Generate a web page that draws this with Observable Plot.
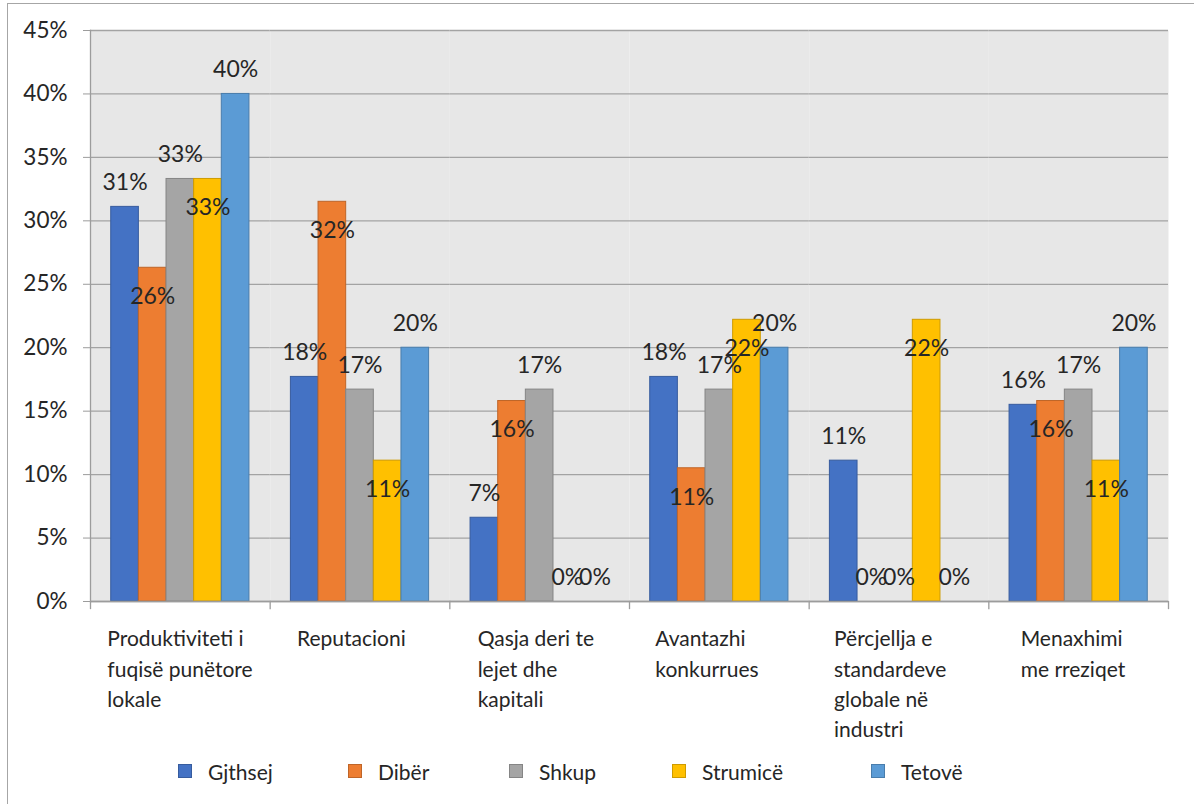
<!DOCTYPE html>
<html>
<head>
<meta charset="utf-8">
<script src="https://cdn.jsdelivr.net/npm/d3@7"></script>
<script src="https://cdn.jsdelivr.net/npm/@observablehq/plot@0.6"></script>
<style>
  html, body { margin: 0; padding: 0; background: #fff; overflow: hidden; }
  body { width: 1194px; height: 804px; position: relative; font-family: "Lato", sans-serif; }
  #frame { position: absolute; left: 7px; top: 3px; width: 1200px; height: 820px; border-top: 1.5px solid #a6a6a6; border-left: 1.5px solid #a6a6a6; box-sizing: border-box; pointer-events: none; }
  #chart { position: absolute; left: 0; top: 0; }
  #legend { position: absolute; left: 0; top: 758px; width: 1194px; height: 26px; font-size: 21px; color: #262626; }
  .item { position: absolute; top: 0; display: flex; align-items: center; height: 26px; }
  .sw { width: 14px; height: 14px; box-sizing: border-box; margin-right: 16px; }
</style>
</head>
<body>
<div id="chart"></div>
<div id="legend"></div>
<div id="frame"></div>
<script>
// ---- data ----
const categories = [
  "Produktiviteti i fuqisë punëtore lokale",
  "Reputacioni",
  "Qasja deri te lejet dhe kapitali",
  "Avantazhi konkurrues",
  "Përcjellja e standardeve globale në industri",
  "Menaxhimi me rreziqet"
];
const categoryLabels = [
  "Produktiviteti i\nfuqisë punëtore\nlokale",
  "Reputacioni",
  "Qasja deri te\nlejet dhe\nkapitali",
  "Avantazhi\nkonkurrues",
  "Përcjellja e\nstandardeve\nglobale në\nindustri",
  "Menaxhimi\nme rreziqet"
];
const series = ["Gjthsej", "Dibër", "Shkup", "Strumicë", "Tetovë"];
const colors = ["#4472C4", "#ED7D31", "#A5A5A5", "#FFC000", "#5B9BD5"];
const gjthsej  = [31.1, 17.7, 6.6, 17.7, 11.1, 15.5];
const diber    = [26.3, 31.5, 15.8, 10.5, 0, 15.8];
const shkup    = [33.3, 16.7, 16.7, 16.7, 0, 16.7];
const strumice = [33.3, 11.1, 0, 22.2, 22.2, 11.1];
const tetove   = [40, 20, 0, 20, 0, 20];
const yTicks = [0, 5, 10, 15, 20, 25, 30, 35, 40, 45];
// horizontal offset of each wrapped category label block from its band centre
const labelDx = [-73, -63, -62, -64, -65, -58];
const legendX = [178, 348, 509, 672, 871];

// ---- table ----
const valuesBySeries = [gjthsej, diber, shkup, strumice, tetove];
const data = [];
categories.forEach((c, ci) => {
  series.forEach((s, si) => {
    data.push({category: c, series: s, si, value: valuesBySeries[si][ci]});
  });
});
const colorOf = s => colors[series.indexOf(s)];
const labelOf = c => categoryLabels[categories.indexOf(c)];
const fmt = d => Math.round(d.value) + "%";
const above = data.filter(d => d.si % 2 === 0 || d.value === 0);
const below = data.filter(d => d.si % 2 === 1 && d.value !== 0);

const fxAxes = categories.map((c, i) => Plot.axisFx({
  ticks: [c], anchor: "bottom", tickSize: 0, tickPadding: 23, textAnchor: "start", dx: labelDx[i],
  tickFormat: labelOf, lineHeight: 1.45, fontSize: 21, fill: "#262626", label: null
}));

const plot = Plot.plot({
  width: 1194,
  height: 745,
  marginLeft: 90,
  marginRight: 26,
  marginTop: 30,
  marginBottom: 144,
  style: {fontFamily: "Lato, sans-serif", fontSize: "21px", color: "#262626", background: "transparent", overflow: "visible"},
  fx: {domain: categories, padding: 0, round: false, label: null, axis: null},
  x: {domain: series, paddingInner: 0, paddingOuter: 0.75, round: false, axis: null},
  y: {domain: [0, 45], label: null, axis: null},
  color: {domain: series, range: colors},
  marks: [
    Plot.frame({fill: "#e7e7e7", stroke: null}),
    Plot.gridY(yTicks, {stroke: "#a3a3a3", strokeOpacity: 1, strokeWidth: 1.3}),
    Plot.barY(data, {
      fx: "category", x: "series", y: "value", fill: "series",
      stroke: d => d3.color(colorOf(d.series)).darker(0.6).formatHex(),
      strokeWidth: 1
    }),
    Plot.ruleY([0], {stroke: "#9c9c9c", strokeWidth: 1.3}),
    Plot.frame({anchor: "left", stroke: "#9c9c9c", strokeWidth: 1.3, facetAnchor: "left"}),
    Plot.frame({anchor: "left", stroke: "#9c9c9c", strokeWidth: 1.3, insetTop: 571, insetBottom: -7}),
    Plot.frame({anchor: "right", stroke: "#9c9c9c", strokeWidth: 1.3, insetTop: 571, insetBottom: -7, facetAnchor: "right"}),
    Plot.axisY(yTicks, {
      anchor: "left", tickSize: 7, tickPadding: 16, stroke: "#9c9c9c",
      tickFormat: d => d + "%", fontSize: 22.5, fill: "#262626", label: null
    }),
    ...fxAxes,
    Plot.text(above, {fx: "category", x: "series", y: "value", text: fmt, dy: -24, fontSize: 23, fill: "#262626"}),
    Plot.text(below, {fx: "category", x: "series", y: "value", text: fmt, dy: 29, fontSize: 23, fill: "#262626"})
  ]
});
document.getElementById("chart").appendChild(plot);

// ---- legend ----
const legend = document.getElementById("legend");
series.forEach((s, i) => {
  const it = document.createElement("div");
  it.className = "item";
  it.style.left = legendX[i] + "px";
  const sw = document.createElement("span");
  sw.className = "sw";
  sw.style.background = colors[i];
  sw.style.border = "1px solid " + d3.color(colors[i]).darker(0.6).formatHex();
  const tx = document.createElement("span");
  tx.textContent = s;
  it.appendChild(sw);
  it.appendChild(tx);
  legend.appendChild(it);
});
</script>
</body>
</html>
